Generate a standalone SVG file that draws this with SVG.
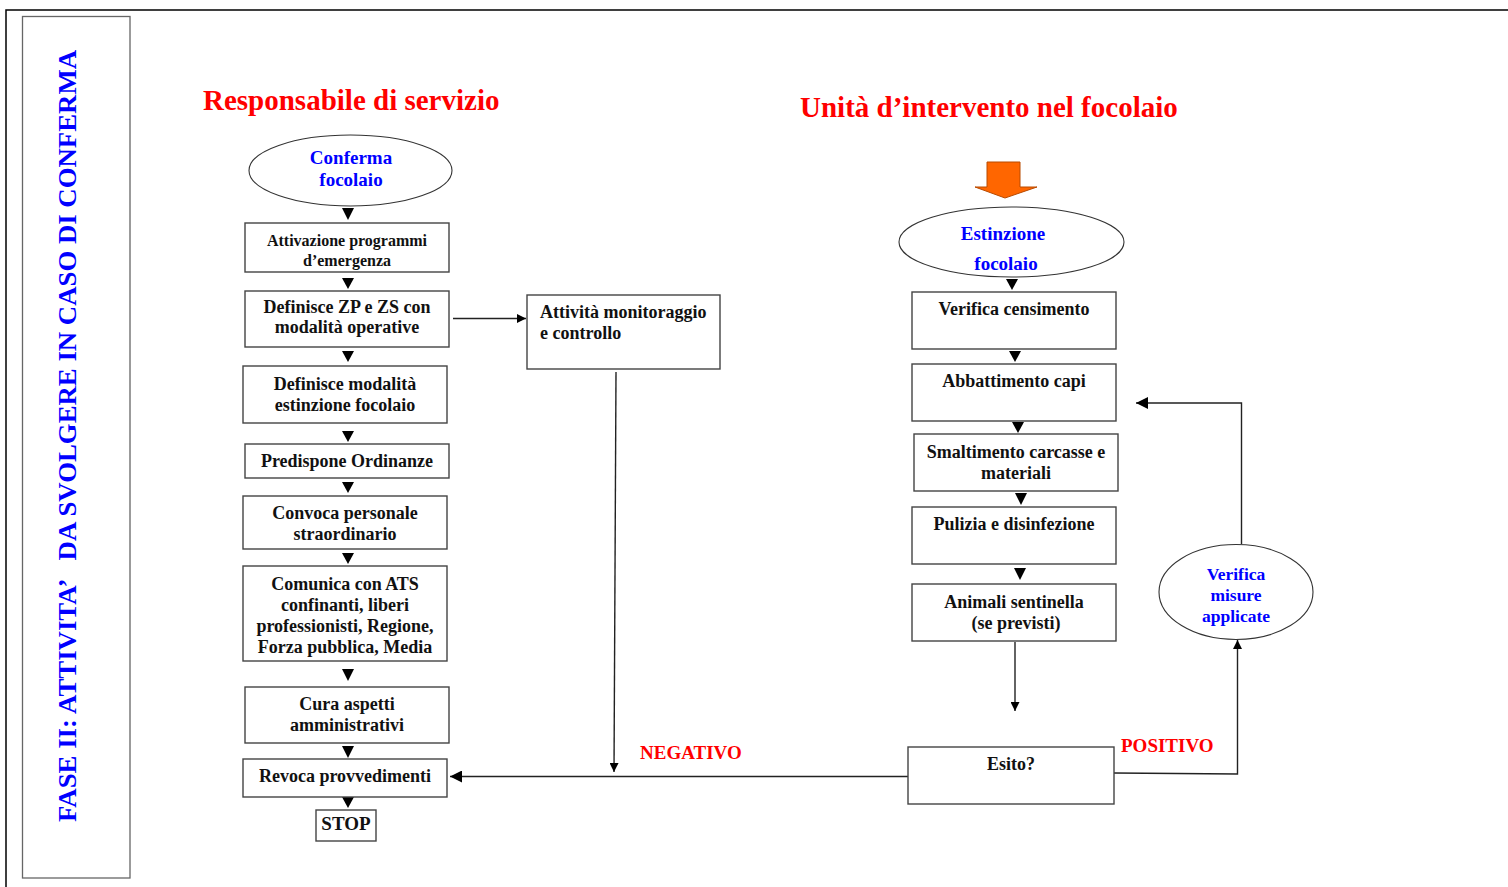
<svg xmlns="http://www.w3.org/2000/svg" width="1508" height="887" viewBox="0 0 1508 887">
<style>
.t{font-family:"Liberation Serif","Times New Roman",serif;font-weight:bold}
.bx{fill:#fff;stroke:#444;stroke-width:1.4}
.el{fill:#fff;stroke:#333;stroke-width:1.1}
.bt{font-size:18px;fill:#111;text-anchor:middle}
.blue{fill:#0000ff;text-anchor:middle}
.red{fill:#ff0000}
.ln{fill:none;stroke:#222;stroke-width:1.4}
.tri{fill:#000}
</style>
<defs>
<marker id="ah" viewBox="0 0 10 10" refX="10" refY="5" markerWidth="9" markerHeight="9" markerUnits="userSpaceOnUse" orient="auto">
<path d="M0,0 L10,5 L0,10 z" fill="#000"/>
</marker>
<marker id="ahb" viewBox="0 0 10 10" refX="10" refY="5" markerWidth="12" markerHeight="12" markerUnits="userSpaceOnUse" orient="auto">
<path d="M0,0 L10,5 L0,10 z" fill="#000"/>
</marker>
</defs>
<rect width="1508" height="887" fill="#fff"/>
<g id="frame">
<path d="M6,887 V10 H1508" fill="none" stroke="#000" stroke-width="1.5"/>
<rect x="22.5" y="16.5" width="107.5" height="861.5" fill="none" stroke="#666" stroke-width="1.3"/>
<text class="t" transform="translate(76,436) rotate(-90)" font-size="26" fill="#0000ff" text-anchor="middle" textLength="772" lengthAdjust="spacingAndGlyphs" xml:space="preserve">FASE II: ATTIVITA’   DA SVOLGERE IN CASO DI CONFERMA</text>
</g>
<g id="titles">
<text class="t red" x="203" y="110" font-size="29">Responsabile di servizio</text>
<text class="t red" x="800" y="117" font-size="29">Unità d’intervento nel focolaio</text>
</g>
<g id="connectors">
<polygon class="tri" points="342,208 354,208 348,220"/>
<polygon class="tri" points="342,278 354,278 348,289"/>
<polygon class="tri" points="342,351 354,351 348,362"/>
<polygon class="tri" points="342,431 354,431 348,442"/>
<polygon class="tri" points="342,482 354,482 348,493"/>
<polygon class="tri" points="342,553 354,553 348,564"/>
<polygon class="tri" points="342,669 354,669 348,681"/>
<polygon class="tri" points="342,746 354,746 348,758"/>
<polygon class="tri" points="342,797 354,797 348,808"/>
<line class="ln" x1="453" y1="318.5" x2="526" y2="318.5" marker-end="url(#ah)"/>
<line class="ln" x1="616" y1="372" x2="614" y2="772" marker-end="url(#ah)"/>
<line class="ln" x1="908" y1="776.5" x2="450" y2="776.5" marker-end="url(#ahb)"/>
<polygon class="tri" points="1006,279 1018,279 1012,290"/>
<polygon class="tri" points="1009,351 1021,351 1015,362"/>
<polygon class="tri" points="1012,422 1024,422 1018,433"/>
<polygon class="tri" points="1015,493 1027,493 1021,505"/>
<polygon class="tri" points="1014,568 1026,568 1020,580"/>
<line class="ln" x1="1015" y1="642" x2="1015" y2="711" marker-end="url(#ah)"/>
<polyline class="ln" points="1114,773 1237.5,774 1237.5,640" marker-end="url(#ah)"/>
<polyline class="ln" points="1241.5,544 1241.5,403 1136,403" marker-end="url(#ahb)"/>
<polygon points="987,162 1020,162 1020,187 1037,187 1005,198 975,187 987,187" fill="#ff6600" stroke="#b84a00" stroke-width="1"/>
</g>
<g id="n-conferma">
<ellipse class="el" cx="350.5" cy="170.5" rx="101.5" ry="35.5"/>
<text class="t blue" x="351" y="164" font-size="19">Conferma</text>
<text class="t blue" x="351" y="186" font-size="19">focolaio</text>
</g>
<g id="n-attivazione">
<rect class="bx" x="245" y="223" width="204" height="49"/>
<text class="t bt" x="347" y="246" font-size="16" style="font-size:16px">Attivazione programmi</text>
<text class="t bt" x="347" y="266" style="font-size:16px">d’emergenza</text>
</g>
<g id="n-definisce-zp">
<rect class="bx" x="245" y="291" width="204" height="56"/>
<text class="t bt" x="347" y="313">Definisce ZP e ZS con</text>
<text class="t bt" x="347" y="333">modalità operative</text>
</g>
<g id="n-definisce-mod">
<rect class="bx" x="243" y="366" width="204" height="57"/>
<text class="t bt" x="345" y="390">Definisce modalità</text>
<text class="t bt" x="345" y="411">estinzione focolaio</text>
</g>
<g id="n-ordinanze">
<rect class="bx" x="245" y="444" width="204" height="34"/>
<text class="t bt" x="347" y="467">Predispone Ordinanze</text>
</g>
<g id="n-convoca">
<rect class="bx" x="243" y="496" width="204" height="53"/>
<text class="t bt" x="345" y="519">Convoca personale</text>
<text class="t bt" x="345" y="540">straordinario</text>
</g>
<g id="n-comunica">
<rect class="bx" x="243" y="566" width="204" height="95"/>
<text class="t bt" x="345" y="590">Comunica con ATS</text>
<text class="t bt" x="345" y="611">confinanti, liberi</text>
<text class="t bt" x="345" y="632">professionisti, Regione,</text>
<text class="t bt" x="345" y="653">Forza pubblica, Media</text>
</g>
<g id="n-cura">
<rect class="bx" x="245" y="687" width="204" height="56"/>
<text class="t bt" x="347" y="710">Cura aspetti</text>
<text class="t bt" x="347" y="731">amministrativi</text>
</g>
<g id="n-revoca">
<rect class="bx" x="243" y="759" width="204" height="38"/>
<text class="t bt" x="345" y="782">Revoca provvedimenti</text>
</g>
<g id="n-stop">
<rect class="bx" x="316" y="810" width="60" height="31"/>
<text class="t bt" x="346" y="830" style="font-size:19px">STOP</text>
</g>
<g id="n-monitoraggio">
<rect class="bx" x="527" y="295" width="193" height="74"/>
<text class="t" x="540" y="318" font-size="18" fill="#111">Attività monitoraggio</text>
<text class="t" x="540" y="339" font-size="18" fill="#111">e controllo</text>
</g>
<g id="lbl-negativo">
<text class="t red" x="640" y="759" font-size="19">NEGATIVO</text>
</g>
<g id="n-estinzione">
<ellipse class="el" cx="1011.5" cy="242" rx="112.5" ry="35"/>
<text class="t blue" x="1003" y="240" font-size="19">Estinzione</text>
<text class="t blue" x="1006" y="270" font-size="19">focolaio</text>
</g>
<g id="n-censimento">
<rect class="bx" x="912" y="292" width="204" height="57"/>
<text class="t bt" x="1014" y="315">Verifica censimento</text>
</g>
<g id="n-abbattimento">
<rect class="bx" x="912" y="364" width="204" height="57"/>
<text class="t bt" x="1014" y="387">Abbattimento capi</text>
</g>
<g id="n-smaltimento">
<rect class="bx" x="914" y="434" width="204" height="57"/>
<text class="t bt" x="1016" y="458">Smaltimento carcasse e</text>
<text class="t bt" x="1016" y="479">materiali</text>
</g>
<g id="n-pulizia">
<rect class="bx" x="912" y="507" width="204" height="57"/>
<text class="t bt" x="1014" y="530">Pulizia e disinfezione</text>
</g>
<g id="n-animali">
<rect class="bx" x="912" y="584" width="204" height="57"/>
<text class="t bt" x="1014" y="608">Animali sentinella</text>
<text class="t bt" x="1016" y="629">(se previsti)</text>
</g>
<g id="n-esito">
<rect class="bx" x="908" y="747" width="206" height="57"/>
<text class="t bt" x="1011" y="770">Esito?</text>
</g>
<g id="lbl-positivo">
<text class="t red" x="1121" y="752" font-size="19">POSITIVO</text>
</g>
<g id="n-verifica">
<ellipse class="el" cx="1236" cy="592" rx="77" ry="47.5"/>
<text class="t blue" x="1236" y="580" font-size="17.5">Verifica</text>
<text class="t blue" x="1236" y="601" font-size="17.5">misure</text>
<text class="t blue" x="1236" y="622" font-size="17.5">applicate</text>
</g>
</svg>
